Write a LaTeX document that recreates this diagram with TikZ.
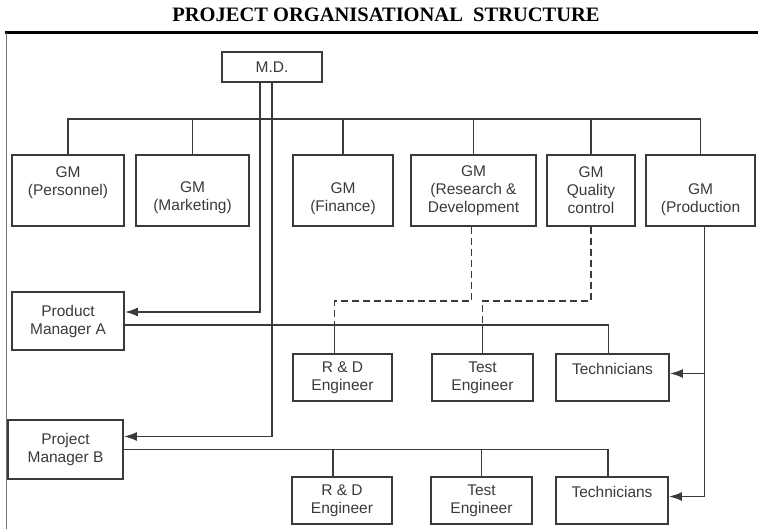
\documentclass[tikz,border=0pt]{standalone}
\usepackage{fontspec}
\setmainfont{Liberation Sans}
\newfontfamily\titlefont{Liberation Serif}
\usepackage{tikz}
\usepackage{xcolor}
\usetikzlibrary{arrows.meta}
\definecolor{ink}{HTML}{3A3A3A}

\begin{document}
\begin{tikzpicture}[x=1pt, y=-1pt, >={Latex[length=13pt,width=9pt]},
  box/.style={draw=ink, line width=1.8pt, text=ink, align=center,
    font=\fontsize{15.5}{18}\selectfont, inner sep=0pt},
  gm/.style={box, minimum height=71pt},
  eng/.style={box, minimum height=47pt},
  link/.style={draw=ink, line width=1.7pt},
  dotted link/.style={link, dash pattern=on 7pt off 4pt}]
  \useasboundingbox (0,0) rectangle (758,529);
  % Title and frame
  \node (title) at (386,15) {\titlefont\bfseries\fontsize{20.5}{20.5}\selectfont PROJECT ORGANISATIONAL\ \ STRUCTURE};
  \draw[line width=3pt] (5,33) -- (758,33);
  \draw[ink!70, line width=1pt] (6,33) -- (6,529);
  % Top
  \node[box, minimum width=100pt, minimum height=30pt] (md) at (272,67) {M.D.};
  % General managers
  \node[gm, minimum width=112pt] (pers) at (68,190.5) {GM\\(Personnel)\\\mbox{}};
  \node[gm, minimum width=113pt] (mark) at (192.5,190.5) {\mbox{}\\[7pt]GM\\(Marketing)};
  \node[gm, minimum width=100pt] (fin) at (343,190.5) {\mbox{}\\[10pt]GM\\(Finance)};
  \node[gm, minimum width=125pt] (gmrd) at (473.5,190.5) {GM\\(Research \&\\Development};
  \node[gm, minimum width=88pt] (qc) at (591,190.5) {GM\\Quality\\control};
  \node[gm, minimum width=109pt] (prod) at (700.5,190.5) {\mbox{}\\[11pt]GM\\(Production};
  % Managers
  \node[box, minimum width=112pt, minimum height=58pt] (pma) at (68,321) {Product\\Manager A};
  \node[box, minimum width=115pt, minimum height=59pt] (pmb) at (65.5,449.5) {Project\\Manager B};
  % Project A team
  \node[eng, minimum width=99pt] (rdea) at (342.5,377.5) {R \& D\\Engineer};
  \node[eng, minimum width=101pt] (testa) at (482.5,377.5) {Test\\Engineer};
  \node[eng, minimum width=113pt] (techa) at (612.5,377.5) {Technicians\\\mbox{}};
  % Project B team
  \node[eng, minimum width=100pt] (rdeb) at (342,500.5) {R \& D\\Engineer};
  \node[eng, minimum width=101pt] (testb) at (481.5,500.5) {Test\\Engineer};
  \node[eng, minimum width=112pt] (techb) at (612,500.5) {Technicians\\\mbox{}};

  % M.D. to GMs
  \coordinate (bus) at (0,119);
  \draw[link] (pers.north) |- (prod.north |- bus) -- (prod.north);
  \foreach \n in {mark,fin,gmrd,qc}
    \draw[link] (\n.north) -- (\n.north |- bus);
  % M.D. to managers
  \draw[link, ->] ([xshift=-12pt]md.south) |- ([yshift=9pt]pma.east);
  \draw[link, ->] (md.south) |- ([yshift=13pt]pmb.east);
  % Project A lines
  \coordinate (la) at ([yshift=-4pt]pma.east);
  \draw[link] (la) -| ([xshift=-4pt]techa.north);
  \draw[link] ([xshift=-8pt]rdea.north) -- ([xshift=-8pt]rdea.north |- la);
  \draw[link] (testa.north) -- (testa.north |- la);
  % Project B lines
  \coordinate (lb) at (pmb.east);
  \draw[link] (lb) -| ([xshift=-4pt]techb.north);
  \draw[link] ([xshift=-9pt]rdeb.north) -- ([xshift=-9pt]rdeb.north |- lb);
  \draw[link] (testb.north) -- (testb.north |- lb);
  % Functional links
  \coordinate (dl) at (0,301);
  \draw[dotted link] ([xshift=-2pt]gmrd.south) |- ([xshift=-8pt]rdea.north |- dl) -- ([xshift=-8pt]rdea.north |- la);
  \draw[dotted link] (qc.south) |- (testa.north |- dl) -- (testa.north |- la);
  % Production to technicians
  \draw[link, ->] ([xshift=4pt]prod.south) |- ([yshift=4pt]techb.east);
  \draw[link, ->] ([xshift=4pt,yshift=4pt]prod.south |- techa.east) -- ([yshift=4pt]techa.east);
\end{tikzpicture}
\end{document}
